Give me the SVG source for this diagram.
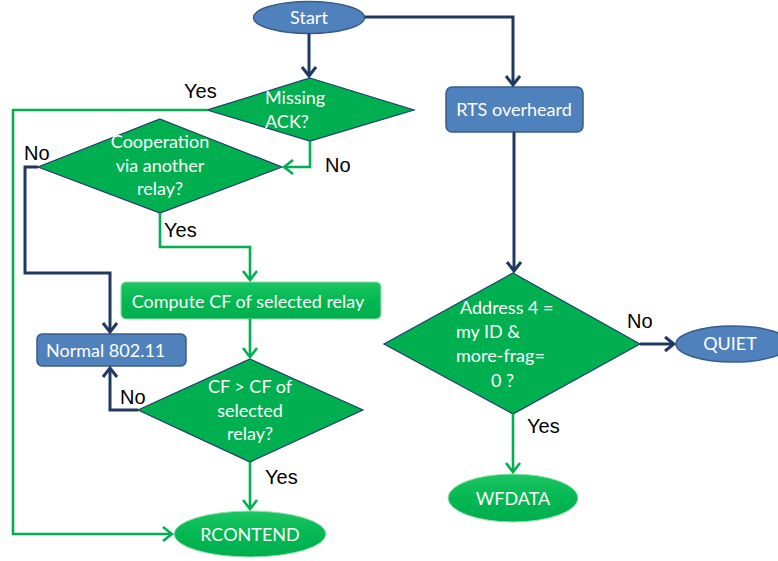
<svg xmlns="http://www.w3.org/2000/svg" width="778" height="561" viewBox="0 0 778 561">
  <style>
    .bg { fill: #ffffff; }
    .blue { fill: #4F81BD; stroke: #385D8A; stroke-width: 1.5; }
    .dia { fill: #00B050; stroke: #1F3D6B; stroke-width: 1.2; }
    .gbox { fill: url(#gLight); stroke: #8FDCA9; stroke-width: 1.2; }
    .gell { fill: url(#gLight); stroke: #9BE0B3; stroke-width: 1; }
    .t { font-family: Lato, "Open Sans", "Liberation Sans", sans-serif; font-size: 18px; fill: #ffffff; }
    .c { text-anchor: middle; }
    .lbl { font-family: "Liberation Sans", Arial, sans-serif; font-size: 20px; fill: #000000; }
    .lb { fill: none; stroke: #1F3864; stroke-width: 3; stroke-linejoin: miter; }
    .lg { fill: none; stroke: #00B050; stroke-width: 2.6; stroke-linejoin: miter; }
  </style>
  <defs>
    <linearGradient id="gLight" x1="0" y1="0" x2="0" y2="1">
      <stop offset="0" stop-color="#1CC662"/>
      <stop offset="0.5" stop-color="#03B852"/>
      <stop offset="1" stop-color="#00AE4E"/>
    </linearGradient>
    <marker id="ab" viewBox="-11 -9 13 18" refX="0" refY="0" markerWidth="13" markerHeight="18" markerUnits="userSpaceOnUse" orient="auto">
      <path d="M-9,-7 L0,0 L-9,7" fill="none" stroke="#1F3864" stroke-width="3"/>
    </marker>
    <marker id="ag" viewBox="-11 -9 13 18" refX="0" refY="0" markerWidth="13" markerHeight="18" markerUnits="userSpaceOnUse" orient="auto">
      <path d="M-9,-7 L0,0 L-9,7" fill="none" stroke="#00B050" stroke-width="2.6"/>
    </marker>
  </defs>

  <rect class="bg" x="0" y="0" width="778" height="561"/>

  <!-- nodes -->
  <g id="start">
    <ellipse class="blue" cx="309" cy="17.5" rx="55.5" ry="16"/>
    <text class="t c" x="309" y="24">Start</text>
  </g>
  <g id="missing-ack">
    <polygon class="dia" points="310,78 414,110 310,141 207,110"/>
    <text class="t" x="265" y="104">Missing</text>
    <text class="t" x="265" y="128">ACK?</text>
  </g>
  <g id="rts-overheard">
    <rect class="blue" x="446" y="87" width="137" height="45" rx="6"/>
    <text class="t c" x="514" y="116">RTS overheard</text>
  </g>
  <g id="cooperation">
    <polygon class="dia" points="160,119 282,167 160,213 38,167"/>
    <text class="t c" x="160" y="148">Cooperation</text>
    <text class="t c" x="160" y="172">via another</text>
    <text class="t c" x="160" y="195">relay?</text>
  </g>
  <g id="compute-cf">
    <rect class="gbox" x="121" y="282" width="260" height="37" rx="5"/>
    <text class="t c" x="248" y="308">Compute CF of selected relay</text>
  </g>
  <g id="normal-80211">
    <rect class="blue" x="37" y="334" width="149" height="32" rx="5"/>
    <text class="t" x="46" y="357">Normal 802.11</text>
  </g>
  <g id="cf-compare">
    <polygon class="dia" points="250,359 363,410 250,462 138,410"/>
    <text class="t c" x="250" y="393">CF &gt; CF of</text>
    <text class="t c" x="250" y="417">selected</text>
    <text class="t c" x="250" y="440">relay?</text>
  </g>
  <g id="rcontend">
    <ellipse class="gell" cx="250" cy="534" rx="76" ry="23"/>
    <text class="t c" x="250" y="541">RCONTEND</text>
  </g>
  <g id="address-check">
    <polygon class="dia" points="513,273 640,344 513,414 384,344"/>
    <text class="t" x="460" y="314">Address 4 =</text>
    <text class="t" x="456" y="338">my ID &amp;</text>
    <text class="t" x="456" y="362">more-frag=</text>
    <text class="t" x="491" y="387">0 ?</text>
  </g>
  <g id="quiet">
    <ellipse class="blue" cx="733" cy="344" rx="57" ry="18"/>
    <text class="t c" x="730" y="350">QUIET</text>
  </g>
  <g id="wfdata">
    <ellipse class="gell" cx="513" cy="498" rx="65" ry="24"/>
    <text class="t c" x="513" y="505">WFDATA</text>
  </g>

  <!-- connectors -->
  <g id="connectors">
    <path class="lb" d="M309,33.5 L309,76" marker-end="url(#ab)"/>
    <path class="lb" d="M364.5,17 L513,17 L513,85" marker-end="url(#ab)"/>
    <path class="lg" d="M207,110 L13,110 L13,534 L172,534" marker-end="url(#ag)"/>
    <path class="lg" d="M310,141 L310,167 L284,167" marker-end="url(#ag)"/>
    <path class="lb" d="M38,167 L25,167 L25,273 L110,273 L110,332" marker-end="url(#ab)"/>
    <path class="lg" d="M160,213 L160,247 L250,247 L250,280" marker-end="url(#ag)"/>
    <path class="lg" d="M250,319 L250,357" marker-end="url(#ag)"/>
    <path class="lb" d="M138,410 L110,410 L110,368" marker-end="url(#ab)"/>
    <path class="lg" d="M250,462 L250,509" marker-end="url(#ag)"/>
    <path class="lb" d="M514,132 L514,271" marker-end="url(#ab)"/>
    <path class="lb" d="M640,344 L674,344" marker-end="url(#ab)"/>
    <path class="lg" d="M513,414 L513,472" marker-end="url(#ag)"/>
  </g>

  <!-- branch labels -->
  <g id="labels">
    <text class="lbl" x="184" y="98">Yes</text>
    <text class="lbl" x="325" y="172">No</text>
    <text class="lbl" x="24" y="160">No</text>
    <text class="lbl" x="164" y="237">Yes</text>
    <text class="lbl" x="120" y="404">No</text>
    <text class="lbl" x="265" y="484">Yes</text>
    <text class="lbl" x="627" y="328">No</text>
    <text class="lbl" x="527" y="433">Yes</text>
  </g>
</svg>
